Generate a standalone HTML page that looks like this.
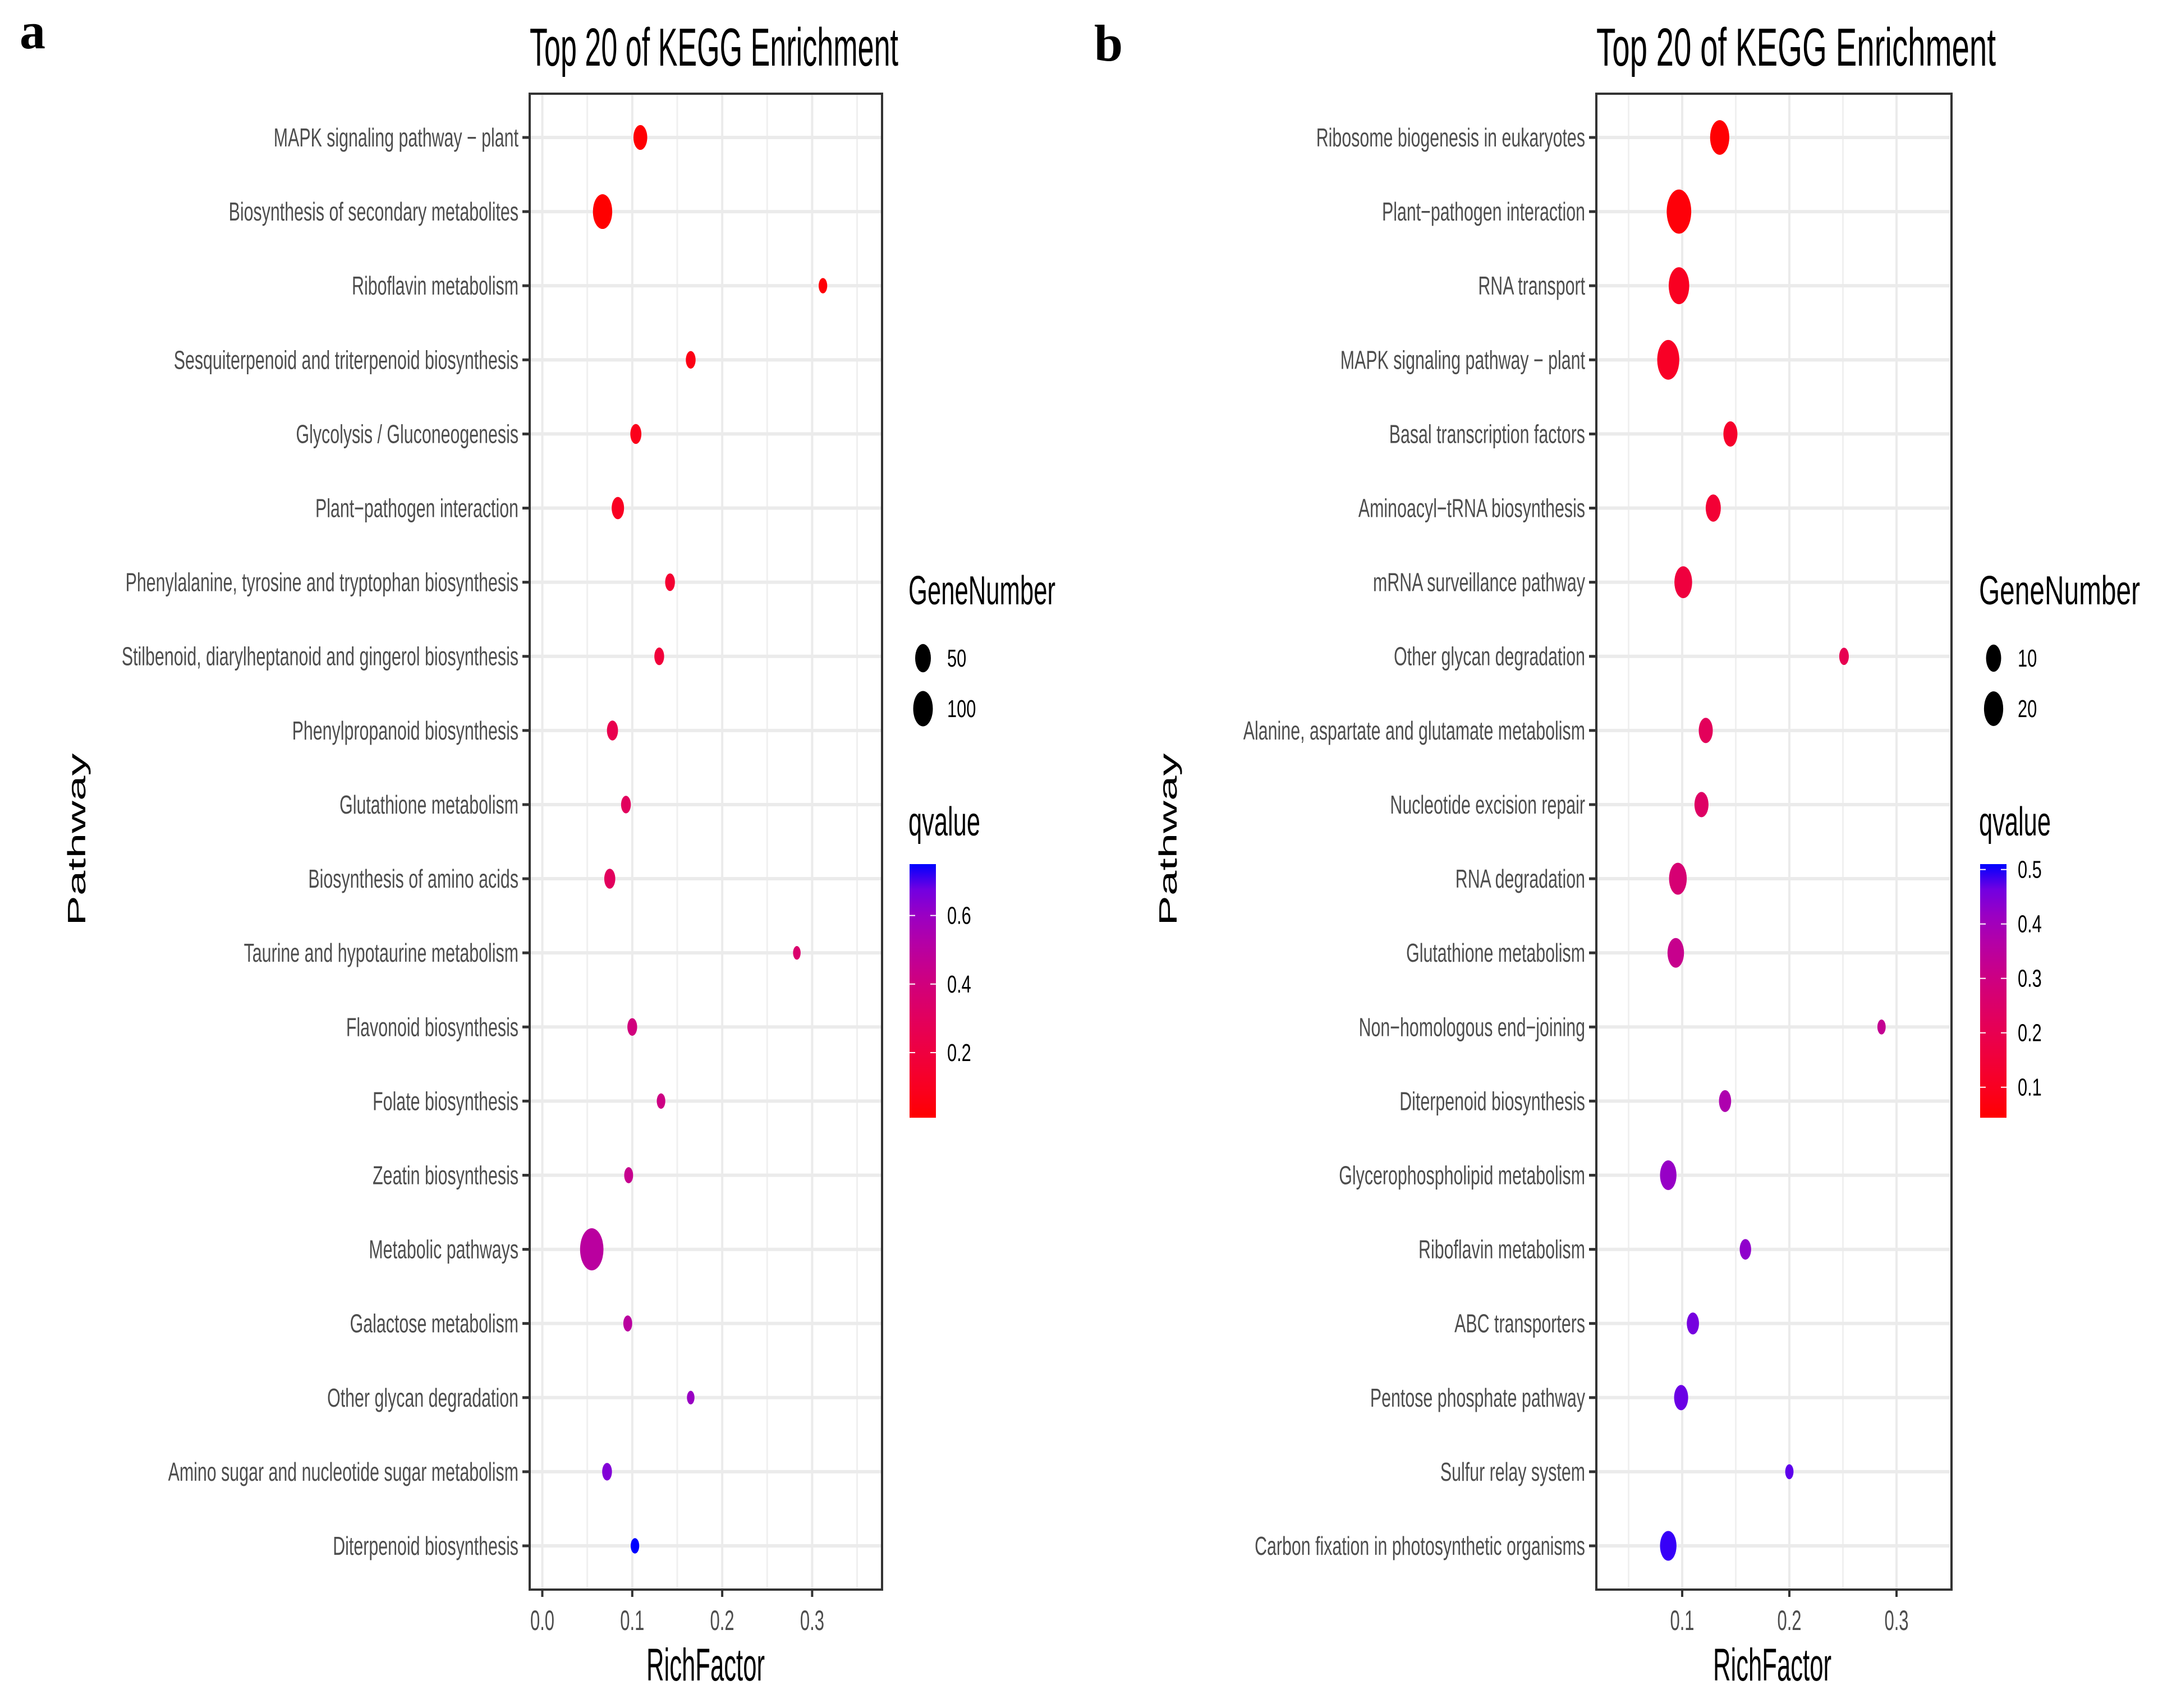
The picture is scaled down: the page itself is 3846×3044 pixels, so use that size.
<!DOCTYPE html>
<html><head><meta charset="utf-8"><style>
html,body{margin:0;padding:0;background:#fff;}
svg{display:block;font-family:"Liberation Sans",sans-serif;}
</style></head><body>
<svg id="fig" width="3846" height="3044" viewBox="0 0 3846 3044" xmlns="http://www.w3.org/2000/svg"></svg>
<script>
// ---- Panel a data ----
const pathwaysA = ["MAPK signaling pathway − plant","Biosynthesis of secondary metabolites","Riboflavin metabolism","Sesquiterpenoid and triterpenoid biosynthesis","Glycolysis / Gluconeogenesis","Plant−pathogen interaction","Phenylalanine, tyrosine and tryptophan biosynthesis","Stilbenoid, diarylheptanoid and gingerol biosynthesis","Phenylpropanoid biosynthesis","Glutathione metabolism","Biosynthesis of amino acids","Taurine and hypotaurine metabolism","Flavonoid biosynthesis","Folate biosynthesis","Zeatin biosynthesis","Metabolic pathways","Galactose metabolism","Other glycan degradation","Amino sugar and nucleotide sugar metabolism","Diterpenoid biosynthesis"];
const richA = [0.109,0.067,0.312,0.165,0.104,0.084,0.142,0.130,0.078,0.093,0.075,0.283,0.100,0.132,0.096,0.055,0.095,0.165,0.072,0.103];
const genesA = [32,95,3,7,13,21,7,7,13,7,13,1,7,3,4,164,4,1,7,3];
const qA = [0.02,0.01,0.03,0.06,0.08,0.10,0.15,0.18,0.25,0.30,0.30,0.35,0.40,0.42,0.45,0.50,0.50,0.60,0.65,0.75];
const xTicksA = [0.0,0.1,0.2,0.3];
const sizeLegA = [50,100];
const qTicksA = [0.2,0.4,0.6];
// ---- Panel b data ----
const pathwaysB = ["Ribosome biogenesis in eukaryotes","Plant−pathogen interaction","RNA transport","MAPK signaling pathway − plant","Basal transcription factors","Aminoacyl−tRNA biosynthesis","mRNA surveillance pathway","Other glycan degradation","Alanine, aspartate and glutamate metabolism","Nucleotide excision repair","RNA degradation","Glutathione metabolism","Non−homologous end−joining","Diterpenoid biosynthesis","Glycerophospholipid metabolism","Riboflavin metabolism","ABC transporters","Pentose phosphate pathway","Sulfur relay system","Carbon fixation in photosynthetic organisms"];
const richB = [0.135,0.097,0.097,0.087,0.145,0.129,0.101,0.251,0.122,0.118,0.096,0.094,0.286,0.140,0.087,0.159,0.110,0.099,0.200,0.087];
const genesB = [20,38,24,29,8,10,16,2,8,8,16,13,1,5,13,4,5,8,1,13];
const qB = [0.05,0.06,0.10,0.11,0.12,0.14,0.16,0.20,0.22,0.24,0.27,0.32,0.33,0.38,0.42,0.43,0.46,0.47,0.48,0.50];
const xTicksB = [0.1,0.2,0.3];
const sizeLegB = [10,20];
const qTicksB = [0.1,0.2,0.3,0.4,0.5];

const NS="http://www.w3.org/2000/svg";
const svg=document.getElementById('fig');
function mk(tag,attrs,parent){const e=document.createElementNS(NS,tag);for(const k in attrs)e.setAttribute(k,attrs[k]);(parent||svg).appendChild(e);return e;}

function s2l(c){c/=255;return c<=0.04045?c/12.92:Math.pow((c+0.055)/1.055,2.4);}
function l2s(c){c=c<=0.0031308?12.92*c:1.055*Math.pow(c,1/2.4)-0.055;return Math.max(0,Math.min(255,Math.round(c*255)));}
function toLab(r,g,b){r=s2l(r);g=s2l(g);b=s2l(b);let X=(r*0.4124+g*0.3576+b*0.1805)/0.95047,Y=r*0.2126+g*0.7152+b*0.0722,Z=(r*0.0193+g*0.1192+b*0.9505)/1.08883;const f=t=>t>0.008856?Math.cbrt(t):7.787*t+16/116;X=f(X);Y=f(Y);Z=f(Z);return[116*Y-16,500*(X-Y),200*(Y-Z)];}
function fromLab(L,a,b){let Y=(L+16)/116,X=a/500+Y,Z=Y-b/200;const fi=t=>t*t*t>0.008856?t*t*t:(t-16/116)/7.787;X=fi(X)*0.95047;Y=fi(Y);Z=fi(Z)*1.08883;const r=X*3.2406+Y*-1.5372+Z*-0.4986,g=X*-0.9689+Y*1.8758+Z*0.0415,bb=X*0.0557+Y*-0.2040+Z*1.0570;return`rgb(${l2s(r)},${l2s(g)},${l2s(bb)})`;}
const LR=toLab(255,0,0),LB=toLab(0,0,255);
function col(t){t=Math.max(0,Math.min(1,t));t=Math.pow(t,1.25);return fromLab(LR[0]+(LB[0]-LR[0])*t,LR[1]+(LB[1]-LR[1])*t,LR[2]+(LB[2]-LR[2])*t);}

function panel(o){
  const g=mk('g',{});
  
  
  const X=v=>o.x0+(v-o.xv0)*o.xs;
  const rowY=i=>245+i*((2755-245)/19);
  const q2t=q=>(q-o.qmin)/(o.qmax-o.qmin);
  const rx=n=>o.ra*Math.sqrt(n)+o.rb;
  mk('rect',{x:o.L,y:167,width:o.R-o.L,height:2666,fill:'#fff'},g);
  for(let v=-0.05;v<0.4;v+=0.1){const x=X(v);if(x>o.L&&x<o.R){mk('line',{x1:x,x2:x,y1:167,y2:2833,stroke:'#F0F0F0','stroke-width':3},g);}}
  for(let v=0;v<0.4;v+=0.1){const x=X(v);if(x>o.L&&x<o.R){const l=mk('line',{x1:x,x2:x,y1:167,y2:2833,stroke:'#EBEBEB','stroke-width':4},g);}}
  o.names.forEach((n,i)=>{const y=rowY(i);
    const l=mk('line',{x1:o.L,x2:o.R,y1:y,y2:y,stroke:'#EBEBEB','stroke-width':6},g);
    
    mk('line',{x1:o.L-13,x2:o.L,y1:y,y2:y,stroke:'#333','stroke-width':5},g);
    const t=mk('text',{x:0,y:0,transform:`translate(${o.L-20},${y+16}) scale(0.66,1)`,'text-anchor':'end','font-size':46,fill:'#4D4D4D'},g);
    t.textContent=n;
  });
  o.names.forEach((n,i)=>{const r=rx(o.genes[i]);
    const e=mk('ellipse',{cx:X(o.rich[i]),cy:rowY(i),rx:r,ry:r*1.8,fill:col(q2t(o.q[i]))},g);
    
  });
  const b=mk('rect',{x:o.L,y:167,width:o.R-o.L,height:2666,fill:'none',stroke:'#333','stroke-width':4},g);
  
  o.xt.forEach(v=>{const x=X(v);
    mk('line',{x1:x,x2:x,y1:2833,y2:2846,stroke:'#333','stroke-width':4},g);
    const t=mk('text',{x:0,y:0,transform:`translate(${x},${2905}) scale(0.62,1)`,'text-anchor':'middle','font-size':50,fill:'#4D4D4D'},g);
    t.textContent=v.toFixed(1);
  });
  const ti=mk('text',{x:o.L,y:117,'font-size':96,textLength:o.titleW,lengthAdjust:'spacingAndGlyphs',fill:'#000'},g);
  ti.textContent='Top 20 of KEGG Enrichment';
  const xl=mk('text',{x:o.xlX,y:2995,'font-size':82,textLength:211,lengthAdjust:'spacingAndGlyphs',fill:'#000'},g);
  xl.textContent='RichFactor';
  const yl=mk('text',{x:0,y:0,transform:`translate(${o.pX},1496) rotate(-90) scale(1,0.8)`,'text-anchor':'middle','font-size':56,textLength:307,lengthAdjust:'spacingAndGlyphs',fill:'#000'},g);
  yl.textContent='Pathway';
  const pl=mk('text',{x:o.letX,y:o.letY,'font-size':92,'font-weight':'bold','font-family':'"Liberation Serif",serif',fill:'#000'},g);
  pl.textContent=o.id;
  const gl=mk('text',{x:o.legX,y:1077,'font-size':72,textLength:o.gnW,lengthAdjust:'spacingAndGlyphs',fill:'#000'},g);
  gl.textContent='GeneNumber';
  o.sl.forEach((n,k)=>{const y=k===0?1173:1263;const r=rx(n);
    const e=mk('ellipse',{cx:o.legX+26,cy:y,rx:r,ry:r*1.8,fill:'#000'},g);
    
    const t=mk('text',{x:0,y:0,transform:`translate(${o.legX+69},${y+15}) scale(0.7,1)`,'font-size':44,fill:'#000'},g);
    t.textContent=n;
  });
  const ql=mk('text',{x:o.legX,y:1489,'font-size':72,textLength:128,lengthAdjust:'spacingAndGlyphs',fill:'#000'},g);
  ql.textContent='qvalue';
  const gid='grad'+o.id;const defs=mk('defs',{},g);const lg=mk('linearGradient',{id:gid,x1:0,y1:1,x2:0,y2:0},defs);
  for(let s=0;s<=10;s++)mk('stop',{offset:s/10,'stop-color':col(s/10)},lg);
  const cb0=1540,cb1=1992,cbx=o.legX+2,cbw=47;
  const cb=mk('rect',{x:cbx,y:cb0,width:cbw,height:cb1-cb0,fill:`url(#${gid})`},g);
  
  o.qt.forEach(v=>{const y=cb1-q2t(v)*(cb1-cb0);
    mk('line',{x1:cbx,x2:cbx+10,y1:y,y2:y,stroke:'#fff','stroke-width':2},g);
    mk('line',{x1:cbx+cbw-10,x2:cbx+cbw,y1:y,y2:y,stroke:'#fff','stroke-width':2},g);
    const t=mk('text',{x:0,y:0,transform:`translate(${o.legX+69},${y+15}) scale(0.7,1)`,'font-size':44,fill:'#000'},g);
    t.textContent=v.toFixed(1);
  });
}
panel({id:'a',names:pathwaysA,rich:richA,genes:genesA,q:qA,xt:xTicksA,sl:sizeLegA,qt:qTicksA,
  L:944,R:1572,x0:966.5,xv0:0,xs:1603,qmin:0.01,qmax:0.75,ra:1.195,rb:5.55,
  titleW:657,xlX:1152,pX:152,letX:35,letY:86,legX:1619,gnW:262});
panel({id:'b',names:pathwaysB,rich:richB,genes:genesB,q:qB,xt:xTicksB,sl:sizeLegB,qt:qTicksB,
  L:2845,R:3478,x0:2998,xv0:0.1,xs:1910,qmin:0.044,qmax:0.51,ra:2.8,rb:4.6,
  titleW:712,xlX:3053,pX:2097,letX:1950,letY:108,legX:3527,gnW:287});
</script>
</body></html>
